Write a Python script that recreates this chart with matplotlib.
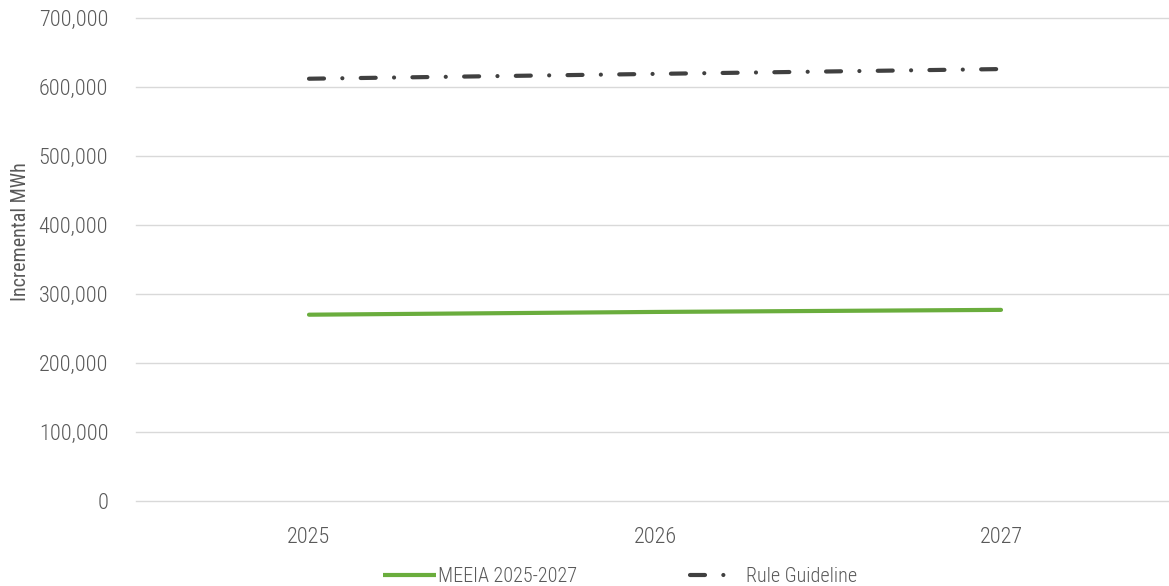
import matplotlib
matplotlib.use("Agg")
import matplotlib.pyplot as plt
import matplotlib.font_manager as fm
import matplotlib.ticker as ticker
from matplotlib.lines import Line2D
import numpy as np

years = ["2025", "2026", "2027"]
meeia = [270000, 274000, 277000]
rule_guideline = [612000, 619000, 626000]

names = {f.name for f in fm.fontManager.ttflist}
family = next((c for c in ["Roboto Condensed", "Liberation Sans Narrow", "Roboto"]
               if c in names), "DejaVu Sans")
plt.rcParams["font.family"] = [family, "DejaVu Sans"]
plt.rcParams["font.weight"] = "light"

TXT = "#595959"
GREEN = "#6AAD3D"
DARK = "#404040"

fig = plt.figure(figsize=(11.69, 5.86), dpi=100)
ax = fig.add_axes([136 / 1169, 1 - 501 / 586, 1038 / 1169, 483 / 586])

x = np.arange(len(years))
ax.plot(x, meeia, color=GREEN, linewidth=3, solid_capstyle="round")
ln, = ax.plot(x, rule_guideline, color=DARK, linewidth=3, dash_capstyle="round")
ln.set_dashes((3.6, 4.4, 0.01, 4.4))

ax.set_xlim(-0.5, 2.5)
ax.set_ylim(0, 700000)
ax.set_yticks(np.arange(0, 700001, 100000))
ax.yaxis.set_major_formatter(ticker.FuncFormatter(lambda v, _: f"{v:,.0f}"))
ax.set_xticks(x)
ax.set_xticklabels(years)
ax.grid(axis="y", color="#D9D9D9", linewidth=1)
for gl in ax.get_ygridlines():
    gl.set_clip_on(False)
ax.set_axisbelow(True)
for s in ax.spines.values():
    s.set_visible(False)
ax.tick_params(axis="both", length=0, colors=TXT, labelsize=16)
ax.tick_params(axis="y", pad=20)
ax.tick_params(axis="x", pad=19)
ax.set_ylabel("Incremental MWh", color=TXT, fontsize=14.5)
ax.yaxis.set_label_coords(-0.102, 0.557)

# legend proxies: the dash-dot handle shows just one dash and one dot
h_green = Line2D([], [], color=GREEN, linewidth=3, solid_capstyle="butt")
h_dark = Line2D([], [], color=DARK, linewidth=3, dash_capstyle="round",
                dashes=(3.6, 4.4, 0.01, 20))
fig.legend([h_green, h_dark], ["MEEIA 2025-2027", "Rule Guideline"],
           loc="center", bbox_to_anchor=(620 / 1169, 1 - 577 / 586), ncol=2,
           frameon=False, fontsize=14.5, labelcolor=TXT,
           handlelength=2.65, handletextpad=0.1, columnspacing=5.6,
           borderpad=0)

fig.savefig("out.png", dpi=100)
